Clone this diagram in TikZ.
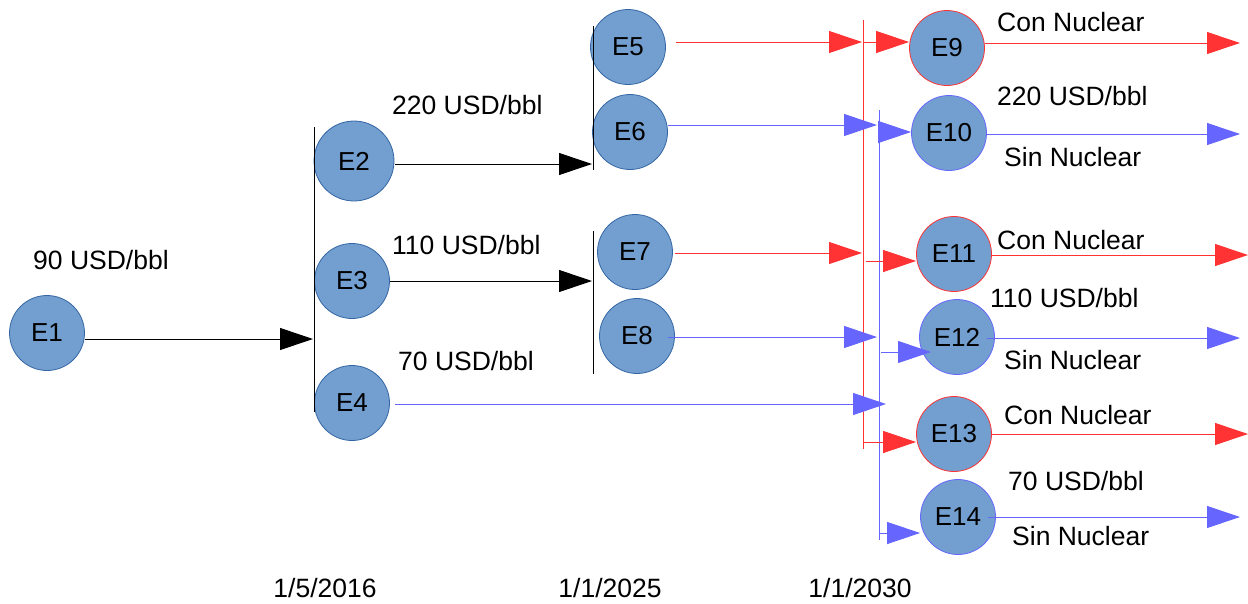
\documentclass[tikz,border=0pt]{standalone}
\usepackage{fontspec}
\setmainfont{Liberation Sans}
\usetikzlibrary{arrows.meta,calc}
\definecolor{cfill}{HTML}{729FCF}
\definecolor{cedge}{HTML}{3465A4}
\definecolor{cred}{HTML}{FF3333}
\definecolor{cblue}{HTML}{6666FF}
\definecolor{cdark}{HTML}{000000}
\begin{document}
\begin{tikzpicture}[x=1pt,y=-1pt,
  state/.style={circle,fill=cfill,draw=cedge,line width=0.8pt,minimum size=75pt,inner sep=0pt,font=\fontsize{26}{30}\selectfont},
  redstate/.style={state,draw=cred},
  bluestate/.style={state,draw=cblue},
  lbl/.style={anchor=base west,inner sep=0pt,font=\fontsize{26.5}{30}\selectfont},
  datelbl/.style={anchor=base,inner sep=0pt,font=\fontsize{26.5}{30}\selectfont},
  kbar/.style={line width=1pt,draw=cdark},
  rbar/.style={line width=1pt,draw=cred},
  bbar/.style={line width=1pt,draw=cblue},
  karr/.style={line width=1pt,draw=cdark,-{Triangle[length=33pt,width=22pt]}},
  rarr/.style={line width=1pt,draw=cred,-{Triangle[length=33pt,width=22pt]}},
  barr/.style={line width=1pt,draw=cblue,-{Triangle[length=33pt,width=22pt]}}
]
\useasboundingbox (0,0) rectangle (1248,603);

% nodes
\node[state] (E1) at (47,333) {E1};
\node[state,minimum size=80pt] (E2) at (354,161) {E2};
\node[state] (E3) at (352,281) {E3};
\node[state] (E4) at (352,403) {E4};
\node[state] (E5) at (628,47) {E5};
\node[state] (E6) at (630,132) {E6};
\node[state] (E7) at (635,252) {E7};
\node[state] (E8) at (637,336) {E8};
\node[redstate] (E9) at (947,48) {E9};
\node[bluestate] (E10) at (949,133) {E10};
\node[redstate] (E11) at (954,254) {E11};
\node[bluestate] (E12) at (957,337) {E12};
\node[redstate] (E13) at (954,434) {E13};
\node[bluestate] (E14) at (958,517) {E14};

% bar coordinates
\coordinate (b1t) at (314,127); \coordinate (b1b) at (314,412);
\coordinate (b2t) at (593,26);  \coordinate (b2b) at (593,170);
\coordinate (b3t) at (593,231); \coordinate (b3b) at (593,374);
\coordinate (rt) at (863,20);   \coordinate (rb) at (863,449);
\coordinate (bt) at (879,110);  \coordinate (bb) at (879,540);

% junction coordinates
\coordinate (j1) at (313,339);
\coordinate (j2) at (592,164);
\coordinate (j3) at (592,281);
\coordinate (j4) at (886,404);
\coordinate (j5) at (862,42);
\coordinate (j6) at (877,125);
\coordinate (j7) at (862,253);
\coordinate (j8) at (877,337);
\coordinate (r9) at (863,42);
\coordinate (b10) at (879,132);
\coordinate (r11) at (866,261);
\coordinate (b12) at (881,352);
\coordinate (t12) at (931,352);
\coordinate (r13) at (863,442);
\coordinate (b14) at (879,533);
\coordinate (o9) at (1240,43);
\coordinate (o10) at (1240,134);
\coordinate (o11) at (1248,255);
\coordinate (o12) at (1240,338);
\coordinate (o13) at (1248,434);
\coordinate (o14) at (1240,517);

% bars
\draw[kbar] (b1t) -- (b1b);
\draw[kbar] (b2t) -- (b2b);
\draw[kbar] (b3t) -- (b3b);
\draw[rbar] (rt) -- (rb);
\draw[bbar] (bt) -- (bb);

% first stage
\draw[karr] (E1.east|-j1) -- (j1);
\draw[karr] ($(E2.east|-j2)+(1,0)$) -- (j2);
\draw[karr] (E3.east|-j3) -- (j3);
\draw[barr] ($(E4.east|-j4)+(5,0)$) -- (j4);

% second stage
\draw[rarr] ($(E5.east|-j5)+(10,0)$) -- (j5);
\draw[barr] (E6.east|-j6) -- (j6);
\draw[rarr] ($(E7.east|-j7)+(2,0)$) -- (j7);
\draw[barr] ($(E8.east|-j8)+(-7,0)$) -- (j8);

% into final states
\draw[rarr] (r9) -- (E9.west|-r9);
\draw[barr] (b10) -- (E10.west|-b10);
\draw[rarr] (r11) -- (E11.west|-r11);
\draw[barr] (b12) -- (t12);
\draw[rarr] (r13) -- (E13.west|-r13);
\draw[barr] (b14) -- (E14.west|-b14);

% outgoing
\draw[rarr] (E9.east|-o9) -- (o9);
\draw[barr] (E10.east|-o10) -- (o10);
\draw[rarr] (E11.east|-o11) -- (o11);
\draw[barr] ($(E12.east|-o12)+(-8,0)$) -- (o12);
\draw[rarr] (E13.east|-o13) -- (o13);
\draw[barr] ($(E14.east|-o14)+(-8,0)$) -- (o14);

% labels
\node[lbl] (l1) at (33,269) {90 USD/bbl};
\node[lbl] (l2) at (392,114) {220 USD/bbl};
\node[lbl] (l3) at (392,254) {110 USD/bbl};
\node[lbl] (l4) at (398,370) {70 USD/bbl};
\node[lbl] (l5) at (997,31) {Con Nuclear};
\node[lbl] (l6) at (997,105) {220 USD/bbl};
\node[lbl] (l7) at (1004,166) {Sin Nuclear};
\node[lbl] (l8) at (997,249) {Con Nuclear};
\node[lbl] (l9) at (990,307) {110 USD/bbl};
\node[lbl] (l10) at (1004,369) {Sin Nuclear};
\node[lbl] (l11) at (1004,424) {Con Nuclear};
\node[lbl] (l12) at (1008,490) {70 USD/bbl};
\node[lbl] (l13) at (1012,545) {Sin Nuclear};
\node[datelbl] (d1) at (325,597) {1/5/2016};
\node[datelbl] (d2) at (610,597) {1/1/2025};
\node[datelbl] (d3) at (860,597) {1/1/2030};
\end{tikzpicture}
\end{document}
